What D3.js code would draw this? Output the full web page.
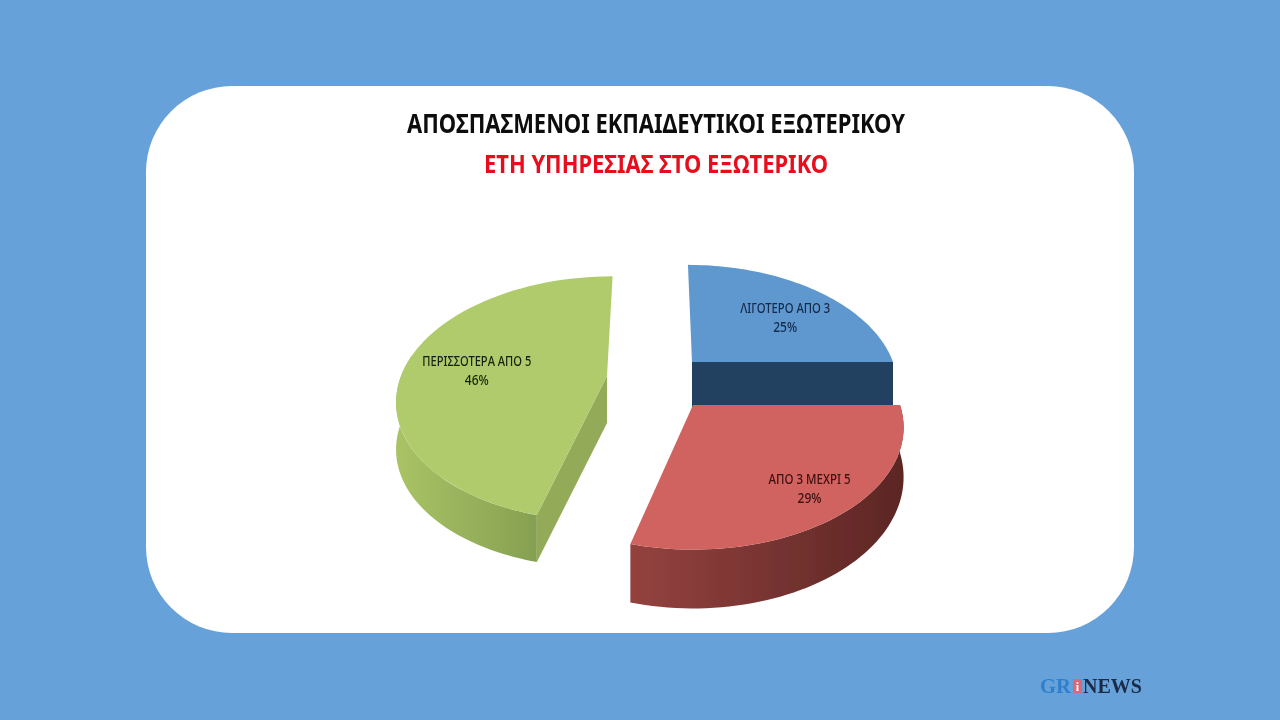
<!DOCTYPE html>
<html><head><meta charset="utf-8">
<script src="https://cdn.jsdelivr.net/npm/d3@7/dist/d3.min.js"></script>
<style>html,body{margin:0;padding:0;background:#66a1d9}svg{display:block}</style>
</head><body><svg id="c" width="1280" height="720"></svg>
<script>
const categories = ["ΛΙΓΟΤΕΡΟ ΑΠΟ 3", "ΑΠΟ 3 ΜΕΧΡΙ 5", "ΠΕΡΙΣΣΟΤΕΡΑ ΑΠΟ 5"];
const values = [25, 29, 46];
const titleMain = "ΑΠΟΣΠΑΣΜΕΝΟΙ ΕΚΠΑΙΔΕΥΤΙΚΟΙ ΕΞΩΤΕΡΙΚΟΥ";
const titleSub = "ΕΤΗ ΥΠΗΡΕΣΙΑΣ ΣΤΟ ΕΞΩΤΕΡΙΚΟ";

// layout / style per slice, same order as categories
const apex = [[692,362],[693,405],[607,376]];
const radiusX = [201,207,206];
const radiusY = [115,118,118];
const depth = [46,48,47];
const depthPerspective = [1,1,0];
const lean = [26,0,-36];
const labelFactor = [0.6,0.78,0.7];
const labelShift = [[16,1],[5,2],[10,5]];
const labelWidth = [90,82,109];
const topColor = ["#5f98cf","#d0625f","#afcb6c"];
const labelColor = ["#14294a","#3a1210","#16230a"];
const wallStops = [["#254061","#254061"],["#94423f","#5c2624"],["#a9c365","#86a052"]];
const radialWall = ["#244060",null,"#93ab58"];

const svg = d3.select("#c");
const defs = svg.append("defs");
defs.append("filter").attr("id","soft").append("feGaussianBlur").attr("stdDeviation",0.45);

svg.append("rect").attr("width",1280).attr("height",720).attr("fill","#66a1d9");
svg.append("rect").attr("x",146).attr("y",86).attr("width",988).attr("height",547).attr("rx",86).attr("ry",86).attr("fill","#fff");

const k = 0.184;
const arcs = d3.pie().sort(null).value(d=>d)(values);

function project(i, a, r, h) {
  const u = Math.sin(a)*r, v = -Math.cos(a)*r;
  const s = 1/(1 - k*v);
  const x = apex[i][0] + u*radiusX[i]*s + lean[i]*(s-1);
  const y = apex[i][1] + v*radiusY[i]*s + (h||0)*(depthPerspective[i] ? s : 1);
  return [x,y];
}
const line = d3.line();
const TAU = Math.PI*2;

function arcPts(i, a0, a1, h) {
  const n = 60;
  return d3.range(n+1).map(j => project(i, a0+(a1-a0)*j/n, 1, h));
}

const g = svg.append("g").attr("filter","url(#soft)");
[2,0,1].forEach(i => {
  const d = arcs[i];
  const group = g.append("g").attr("class","slice");
  const wa0 = Math.max(d.startAngle, TAU*0.25), wa1 = Math.min(d.endAngle, TAU*0.78);
  if (wa1 > wa0) {
    const top = arcPts(i, wa0, wa1, 0), bot = arcPts(i, wa0, wa1, depth[i]).reverse();
    const xs = top.map(p=>p[0]);
    const gid = "wall"+i;
    const grad = defs.append("linearGradient").attr("id",gid).attr("gradientUnits","userSpaceOnUse")
      .attr("x1",d3.min(xs)).attr("x2",d3.max(xs)).attr("y1",0).attr("y2",0);
    grad.append("stop").attr("offset",0).attr("stop-color",wallStops[i][0]);
    grad.append("stop").attr("offset",1).attr("stop-color",wallStops[i][1]);
    group.append("path").attr("d",line(top.concat(bot))+"Z").attr("fill",`url(#${gid})`);
  }
  if (radialWall[i]) {
    const a = i===0 ? d.endAngle : d.startAngle;
    const o = project(i,a,1,0), oB = project(i,a,1,depth[i]);
    const c = project(i,a,0,0), cB = project(i,a,0,depth[i]);
    group.append("path").attr("d",line([c,o,oB,cB])+"Z").attr("fill",radialWall[i]);
  }
  const pts = [project(i,0,0,0)].concat(arcPts(i,d.startAngle,d.endAngle,0));
  group.append("path").attr("d",line(pts)+"Z").attr("fill",topColor[i]);
});

const labels = svg.append("g").attr("filter","url(#soft)").attr("font-family","'Noto Sans',sans-serif").attr("font-size",15).attr("font-weight",500).attr("text-anchor","middle");
arcs.forEach((d,i) => {
  const p = project(i,(d.startAngle+d.endAngle)/2,labelFactor[i],0);
  const x = p[0]+labelShift[i][0], y = p[1]+labelShift[i][1];
  labels.append("text").attr("fill",labelColor[i]).attr("x",x).attr("y",y-5)
    .attr("textLength",labelWidth[i]).attr("lengthAdjust","spacingAndGlyphs").text(categories[i]);
  labels.append("text").attr("fill",labelColor[i]).attr("x",x).attr("y",y+14)
    .attr("textLength",24).attr("lengthAdjust","spacingAndGlyphs").text(values[i]+"%");
});

const titles = svg.append("g").attr("filter","url(#soft)").attr("font-family","'Noto Sans',sans-serif").attr("font-weight",700).attr("text-anchor","middle");
titles.append("text").attr("x",656).attr("y",133).attr("font-size",26).attr("fill","#0a0a0a")
  .attr("textLength",498).attr("lengthAdjust","spacingAndGlyphs").text(titleMain);
titles.append("text").attr("x",656).attr("y",173).attr("font-size",25).attr("fill","#e8101c")
  .attr("textLength",344).attr("lengthAdjust","spacingAndGlyphs").text(titleSub);

const wm = svg.append("g").attr("filter","url(#soft)").attr("font-family","'Liberation Serif',serif").attr("font-weight",700).attr("font-size",21);
wm.append("text").attr("x",1040).attr("y",693).attr("fill","#2f80cc").attr("textLength",31).attr("lengthAdjust","spacingAndGlyphs").text("GR");
wm.append("rect").attr("x",1073).attr("y",679).attr("width",9).attr("height",14).attr("fill","#d8697a");
wm.append("text").attr("x",1077.5).attr("y",691).attr("font-size",12).attr("text-anchor","middle").attr("fill","#fff").text("i");
wm.append("text").attr("x",1083).attr("y",693).attr("fill","#1a2c48").attr("textLength",59).attr("lengthAdjust","spacingAndGlyphs").text("NEWS");
</script></body></html>
